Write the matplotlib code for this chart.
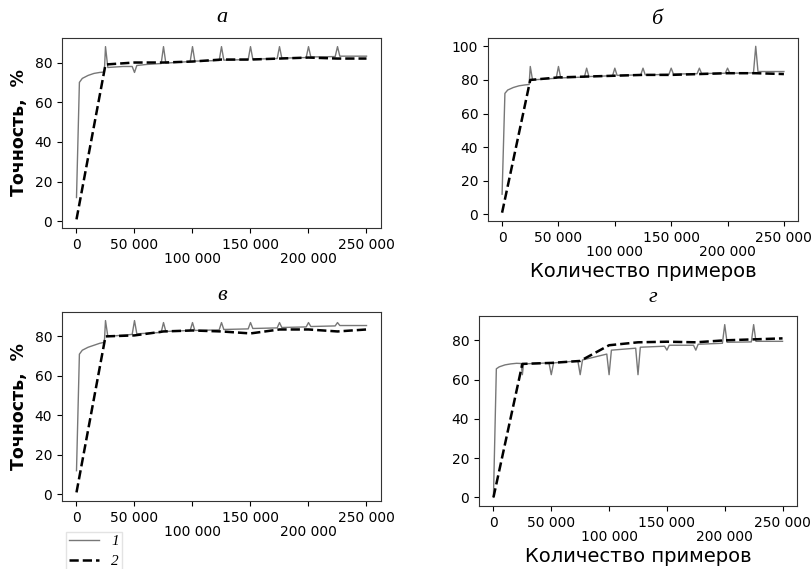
import matplotlib.pyplot as plt
from matplotlib.ticker import FixedLocator

# panel a
a_x1 = [0, 2500, 5000, 10000, 15000, 20000, 24000, 25000, 27000, 40000, 48000, 50000, 52000,
        60000, 73000, 75000, 77000, 98000, 100000, 102000, 123000, 125000, 127000, 148000,
        150000, 152000, 173000, 175000, 177000, 198000, 200000, 202000, 223000, 225000, 227000, 250000]
a_y1 = [12, 70, 72, 73.5, 74.5, 75, 75.2, 88, 77.5, 78, 78, 75, 78.5,
        79, 79.5, 88, 79.7, 80.5, 88, 80.7, 81, 88, 81.2, 81.5,
        88, 81.7, 82, 88, 82.2, 82.5, 88, 82.8, 83, 88, 83.2, 83.2]
a_x2 = [0, 25000, 50000, 75000, 100000, 125000, 150000, 175000, 200000, 225000, 250000]
a_y2 = [1, 79, 80, 80, 80.5, 81.5, 81.5, 82, 82.5, 82, 82]

# panel b
b_x1 = [0, 2500, 5000, 10000, 15000, 20000, 24000, 25000, 27000, 48000, 50000, 52000,
        73000, 75000, 77000, 98000, 100000, 102000, 123000, 125000, 127000, 148000,
        150000, 152000, 173000, 175000, 177000, 198000, 200000, 202000, 223000, 225000, 227000, 250000]
b_y1 = [12, 72, 74, 75.5, 76.5, 77, 77.3, 88, 80, 81, 88, 81.2,
        81.7, 87, 82, 82.5, 87, 82.7, 83, 87, 83, 83.3,
        87, 83.5, 83.7, 87, 83.8, 84, 87, 84, 84.2, 100, 85, 85]
b_x2 = [0, 25000, 50000, 75000, 100000, 125000, 150000, 175000, 200000, 225000, 250000]
b_y2 = [1, 80, 81.5, 82, 82.5, 83, 83, 83.5, 84, 84, 83.5]

# panel c
c_x1 = [0, 2500, 5000, 10000, 15000, 20000, 24000, 25000, 27000, 48000, 50000, 52000,
        73000, 75000, 77000, 98000, 100000, 102000, 123000, 125000, 127000, 148000,
        150000, 152000, 173000, 175000, 177000, 198000, 200000, 202000, 223000, 225000, 227000, 250000]
c_y1 = [12, 71, 73, 74.5, 75.5, 76.5, 77, 88, 80, 81, 88, 81.3,
        82, 87, 82.5, 83, 87, 83, 83.3, 87, 83.5, 83.8,
        87, 84, 84.3, 87, 84.5, 84.8, 87, 85, 85.3, 87, 85.5, 85.5]
c_x2 = [0, 25000, 50000, 75000, 100000, 125000, 150000, 175000, 200000, 225000, 250000]
c_y2 = [1, 80, 80.5, 82.5, 83, 82.5, 81.5, 83.5, 83.5, 82.5, 83.5]

# panel d
d_x1 = [0, 2500, 5000, 10000, 15000, 20000, 24000, 25000, 26000, 48000, 50000, 52000,
        73000, 75000, 77000, 98000, 100000, 102000, 123000, 125000, 127000, 148000,
        150000, 152000, 173000, 175000, 177000, 198000, 200000, 202000, 223000, 225000, 227000, 250000]
d_y1 = [0, 65.5, 66.5, 67.5, 68, 68.3, 68.2, 62.5, 68, 68.5, 62.5, 68.5,
        69.5, 62.5, 70, 73, 62.5, 75, 76, 62.5, 76.5, 77,
        75, 77.5, 77.5, 75, 78, 78.5, 88, 79, 79.2, 88, 79.5, 79.5]
d_x2 = [0, 25000, 50000, 75000, 100000, 125000, 150000, 175000, 200000, 225000, 250000]
d_y2 = [0, 68, 68.5, 69.5, 77.5, 79, 79.3, 79, 80, 80.5, 81]

xticks = [0, 50000, 100000, 150000, 200000, 250000]
xtick_labels = ['0', '50 000', '\n100 000', '150 000', '\n200 000', '250 000']

fig = plt.figure(figsize=(8.12, 5.69), dpi=100)

panels = [
    ('а', [62, 38, 381, 228], a_x1, a_y1, a_x2, a_y2, True, False, (222, 17)),
    ('б', [488, 38, 798, 221], b_x1, b_y1, b_x2, b_y2, False, True, (657, 20)),
    ('в', [62, 312, 381, 501], c_x1, c_y1, c_x2, c_y2, True, False, (222, 295)),
    ('г', [479, 316, 797, 506], d_x1, d_y1, d_x2, d_y2, False, True, (653, 298)),
]

W, H = 812, 569
for title, box, x1, y1, x2, y2, ylab, xlab, tpos in panels:
    l, t, r, b = box
    ax = fig.add_axes([l / W, 1 - b / H, (r - l) / W, (b - t) / H])
    line1, = ax.plot(x1, y1, color='#777777', lw=1.0, label='1')
    line2, = ax.plot(x2, y2, color='black', lw=1.8, ls='--', label='2')
    ax.xaxis.set_major_locator(FixedLocator(xticks))
    ax.set_xticklabels(xtick_labels, fontsize=10)
    for lab in ax.get_xticklabels():
        lab.set_linespacing(1.05)
    ax.tick_params(axis='y', labelsize=10)
    for s in ax.spines.values():
        s.set_color('#333333')
    if ylab:
        ax.set_ylabel('Точность,  %', fontsize=12.5, fontweight='bold')
        ax.yaxis.label.set_va('center')
        ax.yaxis.set_label_coords(-(l - 19) / (r - l), 0.5)
    if xlab:
        ax.set_xlabel('Количество примеров', fontsize=14, labelpad=2)
    fig.text(tpos[0] / W, 1 - tpos[1] / H, title, ha='center', va='center',
             fontsize=16, style='italic', family='Liberation Serif')

fig.legend([line1, line2], ['1', '2'], loc='upper left',
           bbox_to_anchor=(58 / W, 1 - 524 / H), frameon=True, edgecolor='#dddddd',
           prop={'family': 'Liberation Serif', 'style': 'italic', 'size': 11},
           handlelength=2.0, fancybox=False, borderpad=0.2, labelspacing=0.4)

fig.savefig('out.png', dpi=100)
